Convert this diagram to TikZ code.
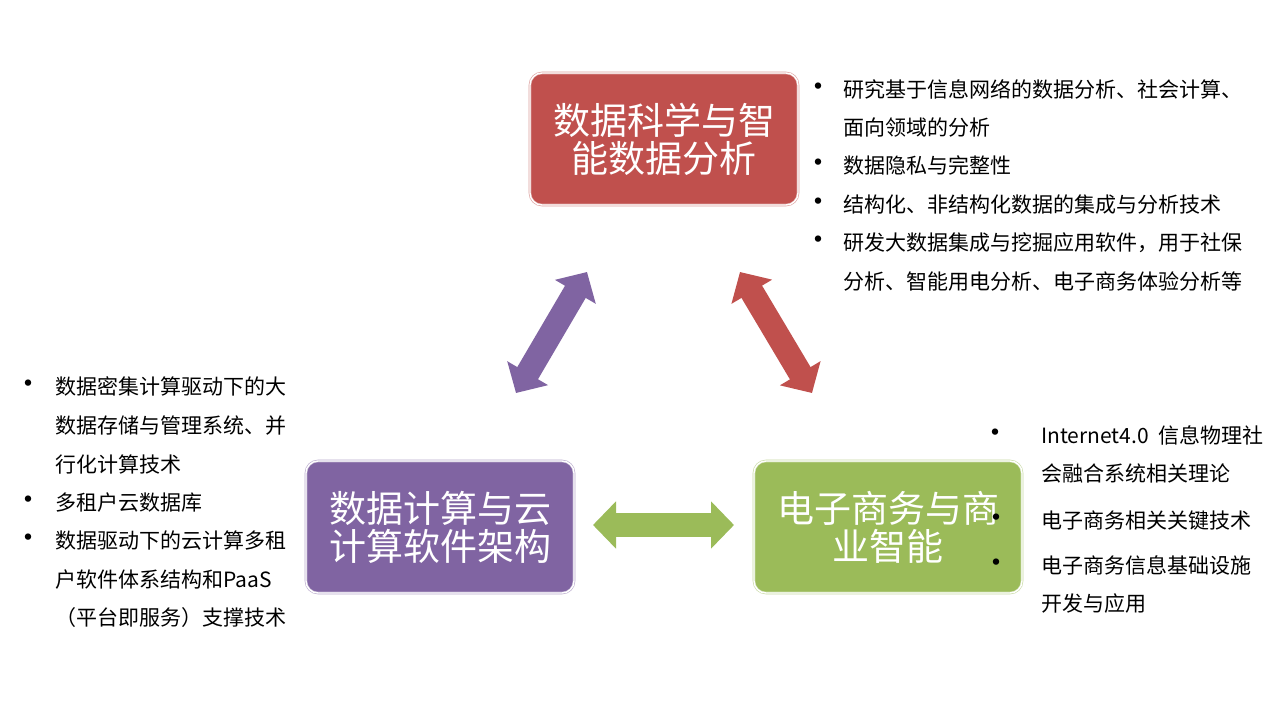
\documentclass[tikz,border=0pt]{standalone}
\usepackage{fontspec}
\setmainfont{Noto Sans CJK SC}
\usetikzlibrary{arrows.meta}
\definecolor{cred}{HTML}{C0504D}
\definecolor{cpur}{HTML}{8064A2}
\definecolor{cgrn}{HTML}{9BBB59}
\begin{document}
\begin{tikzpicture}[x=1pt,y=-1pt,
  box/.style={rounded corners=12pt, minimum width=268pt, minimum height=132pt,
    fill=#1, draw=#1!55!white, double=white, double distance=1.4pt, line width=0.6pt,
    text=white, align=center, inner sep=0pt,
    font=\fontsize{37}{38}\selectfont},
  bt/.style={anchor=base west, inner sep=0pt, text=black, font=\fontsize{21}{24}\selectfont},
  bul/.style={anchor=center, inner sep=0pt, text=black, font=\fontsize{30}{30}\selectfont},
  blk/.style={line width=24pt, color=#1,
    {Triangle[length=23pt,width=46pt]}-{Triangle[length=23pt,width=46pt]}}
]
\fill[white] (0,0) rectangle (1280,720);
\useasboundingbox (0,0) rectangle (1280,720);

% boxes
\node[box=cred] (ds) at (664,139) {数据科学与智\\能数据分析};
\node[box=cpur] (dc) at (440,527) {数据计算与云\\计算软件架构};
\node[box=cgrn] (ec) at (888,527) {电子商务与商\\业智能};

% block arrows
\coordinate (pa1) at (516,393);
\coordinate (pa2) at (587,272);
\coordinate (ra1) at (740,272);
\coordinate (ra2) at (812,393);
\coordinate (ga1) at (593,525);
\coordinate (ga2) at (734,525);
\draw[blk=cpur] (pa1) -- (pa2);
\draw[blk=cred] (ra1) -- (ra2);
\draw[blk=cgrn] (ga1) -- (ga2);

% top-right list
\node[bul] (rb1) at (818,90) {•};
\node[bt] (rt1) at (843,97.5) {研究基于信息网络的数据分析、社会计算、};
\node[bt] (rt2) at (843,135.5) {面向领域的分析};
\node[bul] (rb2) at (818,166) {•};
\node[bt] (rt3) at (843,173.5) {数据隐私与完整性};
\node[bul] (rb3) at (818,205) {•};
\node[bt] (rt4) at (843,212.5) {结构化、非结构化数据的集成与分析技术};
\node[bul] (rb4) at (818,243) {•};
\node[bt] (rt5) at (843,250.5) {研发大数据集成与挖掘应用软件，用于社保};
\node[bt] (rt6) at (843,289.5) {分析、智能用电分析、电子商务体验分析等};

% left list
\node[bul] (lb1) at (28,387) {•};
\node[bt] (lt1) at (55,394.5) {数据密集计算驱动下的大};
\node[bt] (lt2) at (55,433.5) {数据存储与管理系统、并};
\node[bt] (lt3) at (55,472.5) {行化计算技术};
\node[bul] (lb2) at (28,503) {•};
\node[bt] (lt4) at (55,510.5) {多租户云数据库};
\node[bul] (lb3) at (28,541) {•};
\node[bt] (lt5) at (55,548.5) {数据驱动下的云计算多租};
\node[bt] (lt6) at (55,587.5) {户软件体系结构和PaaS};
\node[bt] (lt7) at (55,625.5) {（平台即服务）支撑技术};

% bottom-right list
\node[bul] (bb1) at (995,436) {•};
\node[bt] (bt1) at (1041,443.5) {Internet4.0\ \ 信息物理社};
\node[bt] (bt2) at (1041,481.5) {会融合系统相关理论};
\node[bul] (bb2) at (996,521) {•};
\node[bt] (bt3) at (1041,528.5) {电子商务相关关键技术};
\node[bul] (bb3) at (996,566) {•};
\node[bt] (bt4) at (1041,573.5) {电子商务信息基础设施};
\node[bt] (bt5) at (1041,611.5) {开发与应用};
\end{tikzpicture}
\end{document}
